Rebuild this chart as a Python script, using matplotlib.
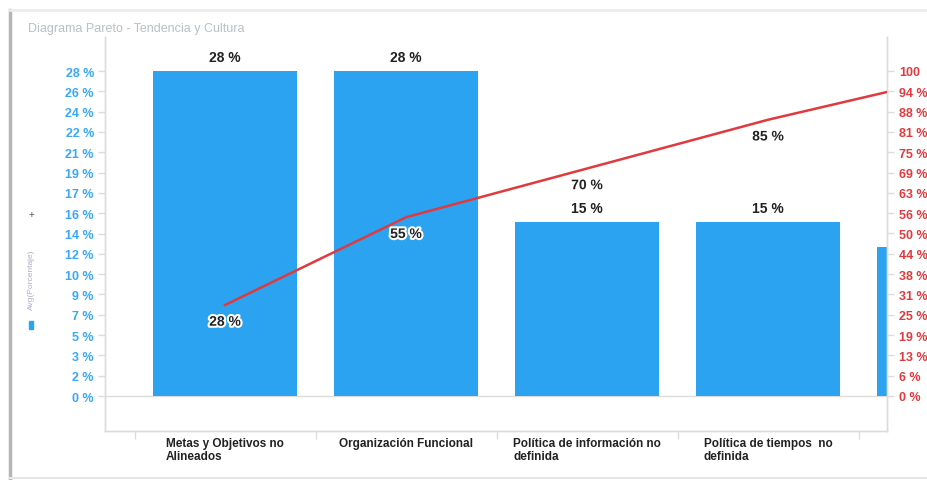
import matplotlib.pyplot as plt
import matplotlib.patheffects as pe
from matplotlib.lines import Line2D

plt.rcParams['font.family'] = ['Liberation Sans', 'DejaVu Sans']

categorias = ["Metas y Objetivos no\nAlineados",
              "Organización Funcional",
              "Política de información no\ndefinida",
              "Política de tiempos  no\ndefinida",
              ""]
porcentaje = [28, 28, 15, 15, 12.8]
acumulado = [28, 55, 70, 85, 98]
etiquetas_barra = ["28 %", "28 %", "15 %", "15 %"]
etiquetas_acum = ["28 %", "55 %", "70 %", "85 %"]

ticks_izq = ["0 %", "2 %", "3 %", "5 %", "7 %", "9 %", "10 %", "12 %", "14 %",
             "16 %", "17 %", "19 %", "21 %", "22 %", "24 %", "26 %", "28 %"]
ticks_der = ["0 %", "6 %", "13 %", "19 %", "25 %", "31 %", "38 %", "44 %", "50 %",
             "56 %", "63 %", "69 %", "75 %", "81 %", "88 %", "94 %", "100"]

AZUL = "#2ba3f0"
ROJO = "#e03a3e"
GRIS = "#dcdcdc"

fig = plt.figure(figsize=(9.27, 4.81), dpi=100)

# marco de la tarjeta
fig.add_artist(Line2D([10/927, 10/927], [0, 1 - 11/481], color="#b5b5b5", lw=2.5))
fig.add_artist(Line2D([10/927, 1], [1 - 11/481, 1 - 11/481], color="#ececec", lw=2))
fig.add_artist(Line2D([10/927, 1], [1 - 479/481, 1 - 479/481], color="#e6e6e6", lw=1.5))
fig.text(28/927, 1 - 29/481, "Diagrama Pareto - Tendencia y Cultura", fontsize=9,
         color="#9aa4b0", va="center", alpha=0.7)

# leyenda vertical del lado izquierdo
fig.text(31/927, 1 - 280/481, "Avg(Porcentaje)", rotation=90, fontsize=6,
         color="#8a8ab0", ha="center", va="center", alpha=0.7)
fig.text(31/927, 1 - 215/481, "+", fontsize=7, color="#555555", ha="center", va="center")
fig.add_artist(plt.Rectangle((29/927, 1 - 330/481), 4/927, 8/481, color=AZUL))

ax = fig.add_axes([105/927, 1 - 432/481, 782/927, 394/481])
ax2 = ax.twinx()

x = range(len(porcentaje))
ax.bar(x, porcentaje, width=0.8, color=AZUL, zorder=2)
ax.axhline(0, color=GRIS, lw=1, zorder=1)

for i, t in enumerate(etiquetas_barra):
    ax.annotate(t, (i, porcentaje[i]), xytext=(0, 5), textcoords="offset points",
                ha="center", va="bottom", fontsize=10, fontweight="bold", color="#222222")

ax.set_ylim(-3.015, 30.93)
ax.set_yticks([i * 1.75 for i in range(17)])
ax.set_yticklabels(ticks_izq)
ax.tick_params(axis="y", colors=GRIS, labelcolor="#3aa8f5", length=5, width=1, pad=3)
for lab in ax.get_yticklabels():
    lab.set_fontweight("bold")
    lab.set_fontsize(9)

ax.set_xticks([i - 0.5 for i in range(5)])
ax.set_xticklabels([])
ax.set_xticks(list(x), minor=True)
ax.set_xticklabels(categorias, minor=True, fontsize=8.5, fontweight="bold",
                   color="#222222", multialignment="left", va="top")
ax.tick_params(axis="x", which="major", colors=GRIS, length=6, width=1)
ax.tick_params(axis="x", which="minor", length=0, pad=4)

ax2.plot(x, acumulado, color=ROJO, lw=1.8, zorder=3)
for i, t in enumerate(etiquetas_acum):
    ax2.annotate(t, (i, acumulado[i]), xytext=(0, -7), textcoords="offset points",
                 ha="center", va="top", fontsize=10, fontweight="bold", color="#222222",
                 path_effects=[pe.withStroke(linewidth=3, foreground="white")])
ax2.set_ylim(-10.77, 110.46)
ax2.set_yticks([i * 6.25 for i in range(17)])
ax2.set_yticklabels(ticks_der)
ax2.tick_params(axis="y", colors=GRIS, labelcolor=ROJO, length=5, width=1, pad=4)
for lab in ax2.get_yticklabels():
    lab.set_fontweight("bold")
    lab.set_fontsize(9)

# el eje x compartido se fija al final para que el trazo de la línea no lo cambie
ax.set_xlim(-0.663, 3.657)

for a in (ax, ax2):
    for s in a.spines.values():
        s.set_color(GRIS)
        s.set_linewidth(1)
ax.spines["top"].set_visible(False)
ax2.spines["top"].set_visible(False)

fig.savefig("out.png", dpi=100)
